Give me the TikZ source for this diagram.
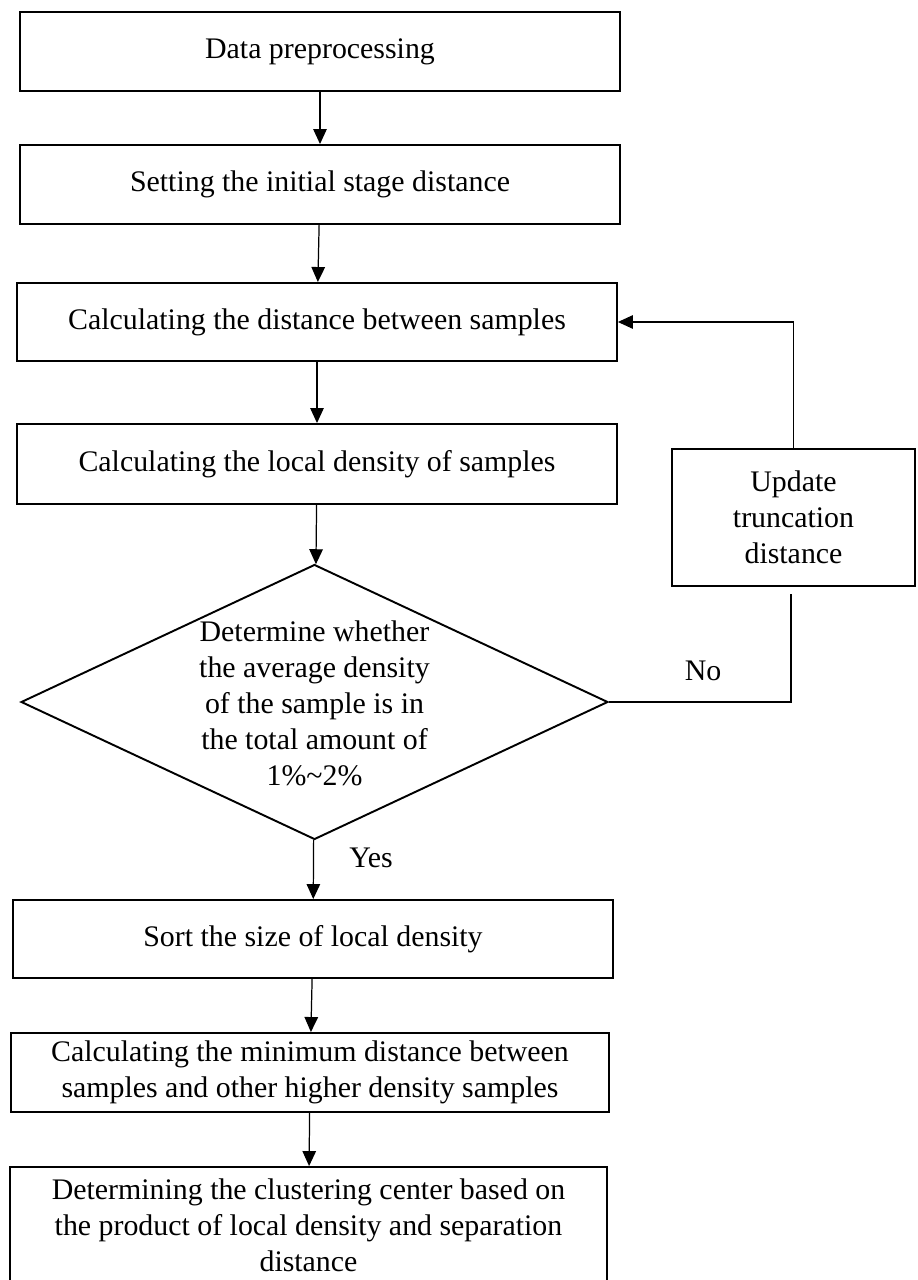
\documentclass[tikz,border=0pt]{standalone}
\usepackage{fontspec}
\setmainfont{Liberation Serif}
\usepackage{tikz}
\usetikzlibrary{shapes,arrows.meta,positioning}

\begin{document}
\begin{tikzpicture}[x=0.02cm,y=-0.02cm,
        stepbox/.style={draw,line width=1.1pt,minimum width=12cm,minimum height=1.58cm,
                        inner sep=2pt,align=center,font=\fontsize{17}{20.5}\selectfont},
        decision/.style={draw,diamond,line width=1.1pt,minimum width=11.74cm,
                         minimum height=5.5cm,inner sep=0pt},
        txt/.style={align=center,font=\fontsize{17}{20.5}\selectfont},
        arr/.style={line width=0.7pt,-{Triangle[length=0.3cm,width=0.27cm]}},
        link/.style={line width=0.7pt}]
    \useasboundingbox (0,0) rectangle (917,1280);
    \node[stepbox] (prep) at (320,51.5) {Data preprocessing};
    \node[stepbox] (init) at (320,184.5) {Setting the initial stage distance};
    \node[stepbox,minimum height=1.56cm] (dist) at (317,322) {Calculating the distance between samples};
    \node[stepbox,minimum height=1.6cm] (dens) at (317,464) {Calculating the local density of samples};
    \node[decision] (check) at (314.5,702) {};
    \node[txt] (checktext) at (314.5,703) {Determine whether\\the average density\\of the sample is in\\the total amount of\\1\%\textasciitilde2\%};
    \node[stepbox,minimum height=1.56cm] (sort) at (313,939) {Sort the size of local density};
    \node[stepbox,minimum width=11.96cm] (mindist) at (310,1072.5) {Calculating the minimum distance between\\samples and other higher density samples};
    \node[stepbox,minimum width=11.94cm,minimum height=2.32cm] (cluster) at (308.5,1225) {Determining the clustering center based on\\the product of local density and separation\\distance};
    \node[stepbox,minimum width=4.86cm,minimum height=2.74cm] (update) at (793.5,517.5) {Update\\truncation\\distance};
    \node[txt] (nolabel) at (703,671) {No};
    \node[txt] (yeslabel) at (371,858) {Yes};
    \coordinate (noend) at (791,594);

    \draw[arr] (prep) -- (init);
    \draw[arr] (init) -- (dist);
    \draw[arr] (dist) -- (dens);
    \draw[arr] (dens) -- (check);
    \draw[arr] (check) -- (sort);
    \draw[arr] (sort) -- (mindist);
    \draw[arr] (mindist) -- (cluster);
    \draw[link] (check.east) -| (noend);
    \draw[arr] (update.north) |- (dist.east);
\end{tikzpicture}
\end{document}
